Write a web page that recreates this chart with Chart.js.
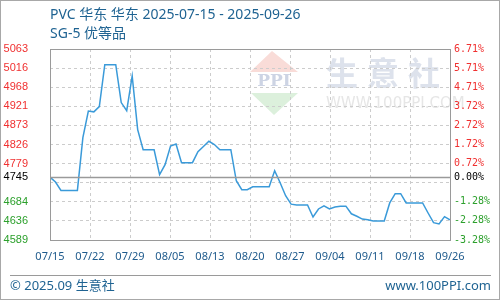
<!DOCTYPE html>
<html>
<head>
<meta charset="utf-8">
<script src="https://cdn.jsdelivr.net/npm/chart.js@4"></script>
<style>
  html, body { margin: 0; padding: 0; background: #fff; }
  #wrap { width: 500px; height: 300px; position: relative; }
</style>
</head>
<body>
<div id="wrap"><canvas id="priceChart" width="500" height="300"></canvas></div>
<script>
// ---- data ----
const titleLine1 = 'PVC 华东 华东 2025-07-15 - 2025-09-26';
const titleLine2 = 'SG-5 优等品';
const baseValue = 4745;

// daily prices 07/15 .. 09/26
const prices = [
  4745, 4733, 4712, 4712, 4712, 4712, 4843, 4909, 4907, 4920,
  5024, 5024, 5024, 4930, 4910, 4996, 4863, 4813, 4813, 4813,
  4751, 4776, 4822, 4827, 4781, 4781, 4781, 4808, 4821, 4834,
  4826, 4813, 4813, 4813, 4736, 4714, 4714, 4721, 4721, 4721,
  4721, 4761, 4731, 4699, 4678, 4676, 4676, 4676, 4646, 4666,
  4674, 4666, 4671, 4673, 4673, 4654, 4648, 4641, 4639, 4636,
  4636, 4636, 4681, 4704, 4704, 4681, 4681, 4681, 4681, 4656,
  4632, 4629, 4647, 4639
];

const xTickLabels = ['07/15','07/22','07/29','08/05','08/13','08/20','08/27','09/04','09/11','09/18','09/26'];

const yTickValues = [4589, 4636.4, 4683.8, 4731.2, 4745, 4778.6, 4826, 4873.4, 4920.8, 4968.2, 5015.6, 5063];
const yTickLabels = ['4589','4636','4684','','4745','4779','4826','4873','4921','4968','5016','5063'];
const pctLabels   = ['-3.28%','-2.28%','-1.28%','','0.00%','0.72%','1.72%','2.72%','3.72%','4.71%','5.71%','6.71%'];

const UP = '#f03030', DOWN = '#2ca02c', ZERO = '#000000';
const tickColor = v => v > baseValue + 0.01 ? UP : (v < baseValue - 0.01 ? DOWN : ZERO);

// ---- extra drawing: frame, titles, watermark, base line ----
const decorPlugin = {
  id: 'decor',
  beforeDraw(chart) {
    const c = chart.ctx;
    c.save();
    // watermark logo
    c.fillStyle = '#f9dcd8';
    c.beginPath(); c.moveTo(272, 51); c.lineTo(298, 72); c.lineTo(250, 72); c.closePath(); c.fill();
    c.fillStyle = '#dcf0dc';
    c.beginPath(); c.moveTo(251, 93); c.lineTo(298, 93); c.lineTo(274, 115); c.closePath(); c.fill();
    c.fillStyle = '#cdd4e4';
    c.font = 'bold 17px "DejaVu Serif", serif';
    c.textAlign = 'center'; c.textBaseline = 'middle';
    c.fillText('PPI', 274, 82);
    c.fillStyle = '#dde2ec';
    c.font = 'bold 32px "Noto Sans CJK SC", sans-serif';
    c.textAlign = 'left';
    ['生','意','社'].forEach((ch, i) => c.fillText(ch, 326 + i * 41, 73));
    c.fillStyle = '#e6e6e6';
    c.font = '15px "DejaVu Sans", sans-serif';
    c.fillText('WWW.100PPI.COM', 326, 104);
    c.restore();
  },
  afterDraw(chart) {
    const c = chart.ctx;
    const a = chart.chartArea;
    const y = chart.scales.y;
    c.save();
    // base line
    const by = Math.round(y.getPixelForValue(baseValue)) + 0.5;
    c.strokeStyle = '#9a9a9a'; c.lineWidth = 1.5;
    c.beginPath(); c.moveTo(a.left, by); c.lineTo(a.right, by); c.stroke();
    // plot frame
    c.lineWidth = 1; c.strokeStyle = '#9a9a9a';
    c.strokeRect(Math.round(a.left) + 0.5, Math.round(a.top) + 0.5, Math.round(a.right - a.left), Math.round(a.bottom - a.top));
    // titles
    c.fillStyle = '#1f6392';
    c.font = '14px "Noto Sans", "Noto Sans CJK SC", sans-serif';
    c.textAlign = 'left'; c.textBaseline = 'middle';
    c.fillText(titleLine1, 50, 15);
    c.fillText(titleLine2, 50, 34);
    // footer
    c.strokeStyle = '#9a9a9a';
    c.beginPath(); c.moveTo(10, 275.5); c.lineTo(491, 275.5); c.stroke();
    c.font = '13px "Noto Sans", "Noto Sans CJK SC", sans-serif';
    c.fillText('© 2025.09 生意社', 10, 286);
    c.textAlign = 'right';
    c.fillText('www.100PPI.com', 491, 286);
    // outer border
    c.strokeStyle = '#a8a8a8';
    c.strokeRect(0.5, 0.5, 499, 299);
    c.restore();
  }
};

const gridDash = [3, 3];

new Chart(document.getElementById('priceChart'), {
  type: 'line',
  data: {
    datasets: [{
      data: prices.map((v, i) => ({ x: i, y: v })),
      borderColor: '#3a9ad9',
      borderWidth: 1.5,
      pointRadius: 0,
      tension: 0,
      fill: false
    }]
  },
  options: {
    responsive: false,
    animation: false,
    devicePixelRatio: 1,
    layout: { padding: { top: 49, left: 0, right: 0, bottom: 0 } },
    plugins: { legend: { display: false }, tooltip: { enabled: false } },
    scales: {
      x: {
        type: 'linear',
        min: 0,
        max: prices.length - 1,
        afterBuildTicks: s => {
          s.ticks = xTickLabels.map((l, k) => ({ value: k * (prices.length - 1) / (xTickLabels.length - 1) }));
        },
        afterFit: s => { s.height = 60; },
        grid: { color: '#cccccc', drawTicks: false, lineWidth: 1 },
        border: { display: false, dash: gridDash },
        ticks: {
          autoSkip: false,
          maxRotation: 0,
          padding: 10,
          color: '#1e5a8c',
          font: { family: '"Noto Sans", sans-serif', size: 11 },
          callback: (v, i) => xTickLabels[i]
        }
      },
      y: {
        position: 'left',
        min: yTickValues[0],
        max: yTickValues[yTickValues.length - 1],
        afterBuildTicks: s => { s.ticks = yTickValues.map(v => ({ value: v })); },
        afterFit: s => { s.width = 50; },
        grid: {
          drawTicks: false,
          color: ctx => (ctx.tick && Math.abs(ctx.tick.value - baseValue) < 0.01) ? 'rgba(0,0,0,0)' : '#cccccc'
        },
        border: { display: false, dash: gridDash },
        ticks: {
          autoSkip: false,
          padding: 22,
          font: { family: 'Arial, "Liberation Sans", sans-serif', size: 11 },
          color: ctx => tickColor(ctx.tick.value),
          callback: (v, i) => yTickLabels[i]
        }
      },
      y2: {
        position: 'right',
        min: yTickValues[0],
        max: yTickValues[yTickValues.length - 1],
        afterBuildTicks: s => { s.ticks = yTickValues.map(v => ({ value: v })); },
        afterFit: s => { s.width = 50; },
        grid: { display: false, drawTicks: false },
        border: { display: false },
        ticks: {
          autoSkip: false,
          padding: 4,
          font: { family: '"DejaVu Sans Mono", monospace', size: 10 },
          color: ctx => tickColor(ctx.tick.value),
          callback: (v, i) => pctLabels[i]
        }
      }
    }
  },
  plugins: [decorPlugin]
});
</script>
</body>
</html>
